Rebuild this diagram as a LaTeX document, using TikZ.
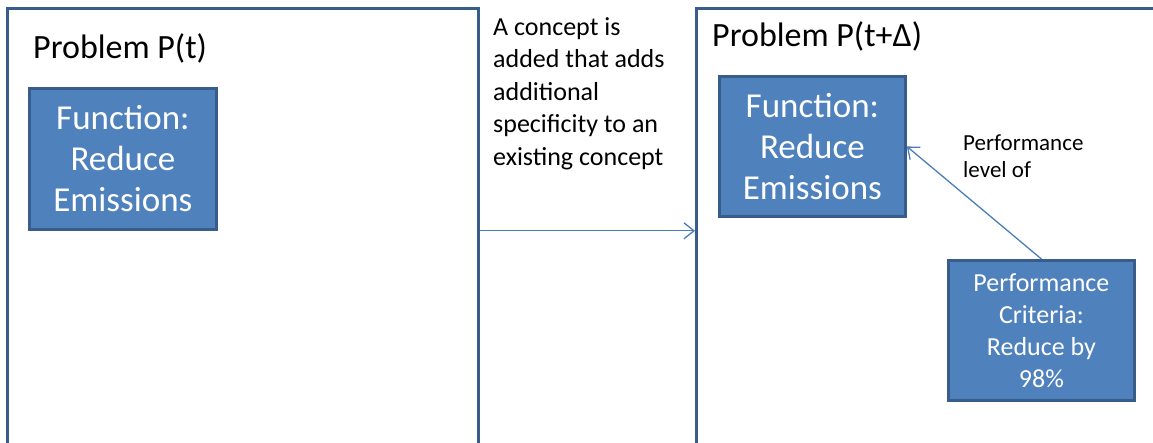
\documentclass[tikz,border=0pt]{standalone}
\usepackage{fontspec}
\setmainfont{Carlito}
\definecolor{AccentBlue}{RGB}{79, 129, 189}
\definecolor{EdgeBlue}{RGB}{56, 93, 138}
\definecolor{LinkBlue}{RGB}{74, 126, 187}
\usetikzlibrary{arrows.meta, positioning}

\begin{document}
\begin{tikzpicture}[x=1pt, y=-1pt,
  panel/.style={draw=EdgeBlue, line width=2.6pt, anchor=north west, minimum height=470pt, inner sep=0pt},
  block/.style={draw=EdgeBlue, fill=AccentBlue, line width=2.8pt, text=white, anchor=north west, minimum width=186pt, minimum height=140pt, align=center, inner sep=0pt, font=\fontsize{35}{41}\selectfont},
  title/.style={anchor=base west, inner sep=0pt, font=\fontsize{34}{40}\selectfont},
  note/.style={anchor=north west, align=left, inner sep=0pt},
  link/.style={draw=LinkBlue, line width=1.3pt, -{Straight Barb[length=10pt, width=16pt]}}]
\useasboundingbox (0,0) rectangle (1153,442);
\clip (0,0) rectangle (1153,442);
\node[panel, minimum width=471pt] (prob1) at (6,7) {};
\node[panel, minimum width=480pt] (prob2) at (695,7) {};
\node[title] (title1) at (33,58) {Problem P(t)};
\node[title] (title2) at (712,46) {Problem P(t+Δ)};
\node[block, minimum width=187pt, minimum height=141pt] (func1) at (28,87) {Function:\\Reduce\\Emissions};
\node[block] (func2) at (718,75) {Function:\\Reduce\\Emissions};
\node[block, font=\fontsize{26}{32}\selectfont] (perf) at (947,259) {Performance\\Criteria:\\Reduce by\\98\%};
\node[note, font=\fontsize{26}{32.5}\selectfont] (change) at (493,17) {A concept is\\added that adds\\additional\\specificity to an\\existing concept};
\node[note, font=\fontsize{23}{27}\selectfont] (lvl) at (963,135) {Performance\\level of};

\draw[link] (func1.south -| prob1.east) -- (func1.south -| prob2.west);
\draw[link] (perf.north) -- (func2.east);
\end{tikzpicture}
\end{document}
